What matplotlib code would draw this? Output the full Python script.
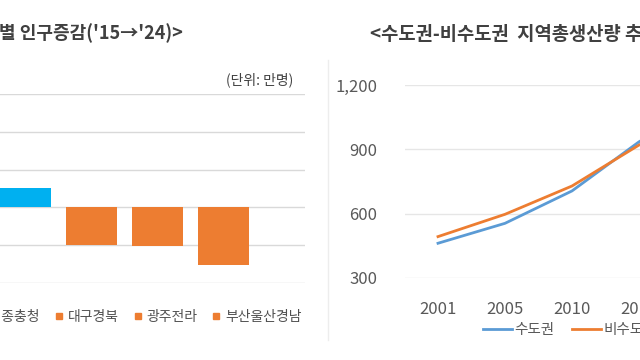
import matplotlib.pyplot as plt
from matplotlib.lines import Line2D
from matplotlib.ticker import FuncFormatter

plt.rcParams['font.family'] = ['Noto Sans CJK KR', 'DejaVu Sans']

# left chart: population change by region, 2015 -> 2024 (10k persons)
regions = ['수도권', '대전세종충청', '대구경북', '광주전라', '부산울산경남']
pop_change = [55, 10.5, -20, -20.5, -30.5]
bar_colors = ['#4472C4', '#00B0F0', '#ED7D31', '#ED7D31', '#ED7D31']

# right chart: regional output, capital vs non-capital area
years = ['2001', '2005', '2010', '2015', '2020']
capital = [462, 555, 706, 935, 1110]
non_capital = [493, 597, 729, 920, 1060]

W, H = 640, 360
fig = plt.figure(figsize=(6.4, 3.6), dpi=100)


def px_box(x0, y0, x1, y1):
    # pixel box (top-left origin) -> figure fraction rect
    return [x0 / W, 1 - y1 / H, (x1 - x0) / W, (y1 - y0) / H]


# ---- left: bar chart (cropped on the left side) ----
ax1 = fig.add_axes(px_box(-80.1, 94, 305, 283))
ax1.bar(range(len(regions)), pop_change, width=0.77, color=bar_colors, zorder=2)
ax1.set_xlim(-0.6, 5.235)
ax1.set_ylim(-40, 60)
ax1.set_yticks(range(-40, 61, 20))
ax1.grid(axis='y', color='#D9D9D9', lw=1)
ax1.set_axisbelow(True)
ax1.tick_params(left=False, bottom=False, labelleft=False, labelbottom=False)
for s in ax1.spines.values():
    s.set_visible(False)

handles = [Line2D([], [], marker='s', ls='none', color=c, markersize=4.5) for c in bar_colors]
ax1.legend(handles, regions, ncol=5, loc='upper right',
           bbox_to_anchor=(302 / W, 1 - 310 / H), bbox_transform=fig.transFigure,
           frameon=False, borderpad=0, borderaxespad=0, handlelength=0.7,
           handletextpad=0.3, columnspacing=1.0, fontsize=10, labelcolor='#505050')

fig.text(183 / W, 1 - 33 / H, "<권역별 인구증감('15→'24)>", ha='right', va='center',
         fontsize=13, fontweight='bold', color='#404040')
fig.text(293 / W, 1 - 80 / H, '(단위: 만명)', ha='right', va='center',
         fontsize=10, color='#404040')

# ---- right: line chart (cropped on the right side) ----
ax2 = fig.add_axes(px_box(404.5, 85, 739.5, 278))
ax2.plot(range(len(years)), capital, color='#5B9BD5', lw=2, label='수도권')
ax2.plot(range(len(years)), non_capital, color='#ED7D31', lw=2, label='비수도권')
ax2.set_xlim(-0.5, 4.5)
ax2.set_ylim(300, 1200)
ax2.set_yticks([300, 600, 900, 1200])
ax2.yaxis.set_major_formatter(FuncFormatter(lambda v, p: f'{int(v):,}'))
ax2.set_xticks(range(len(years)))
ax2.set_xticklabels(years)
ax2.grid(axis='y', color='#E6E6E6', lw=1)
ax2.tick_params(left=False, bottom=False, labelsize=12, labelcolor='#595959')
ax2.tick_params(axis='y', pad=16)
ax2.tick_params(axis='x', pad=13)
for s in ax2.spines.values():
    s.set_visible(False)

ax2.legend(loc='upper left', bbox_to_anchor=(483 / W, 1 - 323 / H),
           bbox_transform=fig.transFigure, frameon=False, ncol=2, borderpad=0,
           borderaxespad=0, handlelength=2.0, handletextpad=0.15,
           columnspacing=1.2, fontsize=10.5, labelcolor='#595959')

fig.text(370 / W, 1 - 35 / H, '<수도권-비수도권  지역총생산량 추이>', ha='left', va='center',
         fontsize=13.5, fontweight='bold', color='#404040')

# faint border of the right chart box
fig.add_artist(Line2D([328 / W, 328 / W], [1 - 340 / H, 1 - 60 / H],
                      transform=fig.transFigure, color='#EDEDED', lw=1))

fig.savefig('out.png', dpi=100)
